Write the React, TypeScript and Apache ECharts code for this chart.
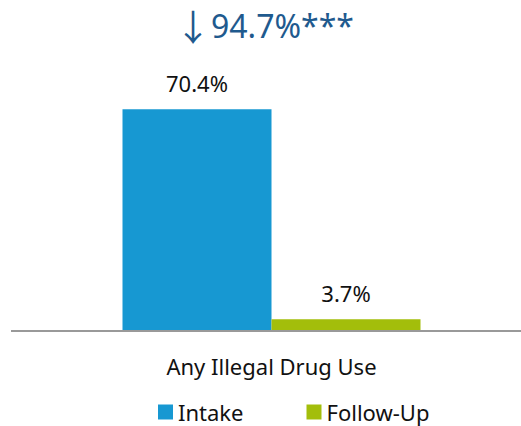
import React, { useEffect, useRef } from "react";
import * as echarts from "echarts";

const categories = ["Any Illegal Drug Use"];
const intakeValues = [70.4];
const followUpValues = [3.7];
const seriesNames = ["Intake", "Follow-Up"];
const headlineArrow = "↓";
const headlineText = "94.7%***";

const FONT = "'Noto Sans', 'Open Sans', sans-serif";
const TITLE_COLOR = "#1F5A8E";

export default function App() {
  const ref = useRef<HTMLDivElement>(null);
  useEffect(() => {
    if (!ref.current) return;
    const chart = echarts.init(ref.current, null, { renderer: "svg" });
    const label = {
      show: true,
      position: "top",
      distance: 15,
      formatter: (p: any) => p.value.toFixed(1) + "%",
      fontSize: 22,
      color: "#111",
      fontFamily: FONT,
    };
    chart.setOption({
      animation: false,
      textStyle: { fontFamily: FONT },
      title: {
        text: "{a|" + headlineArrow + "}{b|" + headlineText + "}",
        left: 175,
        top: 7,
        padding: 0,
        textStyle: {
          fontWeight: "normal",
          rich: {
            a: {
              color: TITLE_COLOR,
              fontSize: 36,
              width: 36,
              fontWeight: "normal",
              fontFamily: "'Noto Sans CJK SC', sans-serif",
            },
            b: { color: TITLE_COLOR, fontSize: 32, fontWeight: "normal", fontFamily: FONT },
          },
        },
      },
      legend: {
        data: seriesNames,
        left: 158,
        top: 401,
        padding: 0,
        itemWidth: 15,
        itemHeight: 15,
        itemGap: 63,
        icon: "rect",
        textStyle: { fontSize: 22, color: "#111", fontFamily: FONT },
      },
      graphic: [
        {
          type: "line",
          shape: { x1: 11, y1: 331, x2: 521, y2: 331 },
          style: { stroke: "#999", lineWidth: 2 },
          z: 10,
        },
      ],
      grid: { left: 22, right: 0, top: 16, bottom: 95 },
      xAxis: {
        type: "category",
        data: categories,
        axisLine: { show: false },
        axisTick: { show: false },
        axisLabel: { fontSize: 22, color: "#111", margin: 24, fontFamily: FONT },
      },
      yAxis: {
        type: "value",
        min: 0,
        max: 100,
        show: false,
        splitLine: { show: false },
      },
      series: [
        {
          name: seriesNames[0],
          type: "bar",
          data: intakeValues,
          barWidth: 149,
          barGap: "0%",
          itemStyle: { color: "#1798D2" },
          label,
        },
        {
          name: seriesNames[1],
          type: "bar",
          data: followUpValues,
          barWidth: 149,
          barGap: "0%",
          itemStyle: { color: "#A3BE0B" },
          label,
        },
      ],
    });
    return () => chart.dispose();
  }, []);
  return (
    <div
      ref={ref}
      style={{ position: "absolute", left: 0, top: 0, width: 521, height: 426, background: "#fff" }}
    />
  );
}
